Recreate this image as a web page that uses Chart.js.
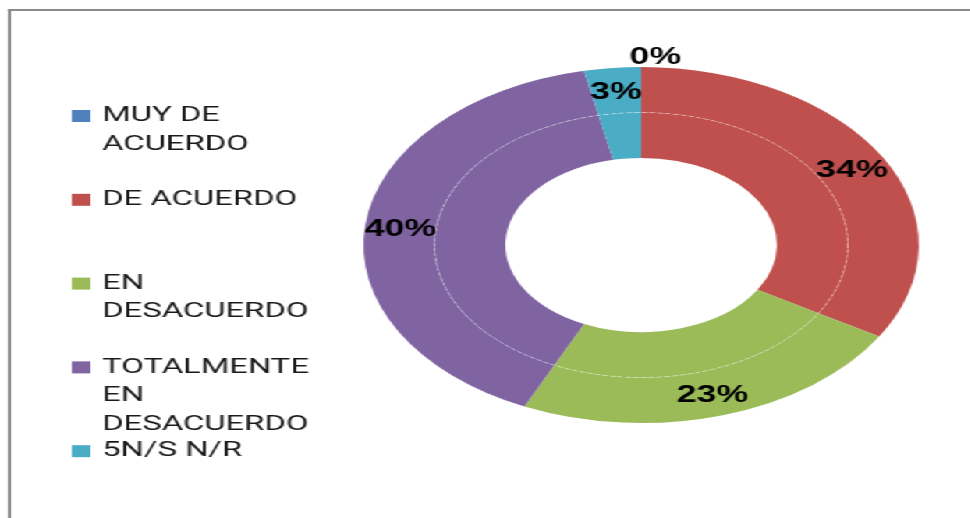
<!DOCTYPE html>
<html>
<head>
<meta charset="utf-8">
<script src="https://cdn.jsdelivr.net/npm/chart.js@4.4.0/dist/chart.umd.min.js"></script>
<style>
  html, body { margin: 0; padding: 0; background: #fff; overflow: hidden; }
  /* the original picture is stretched sideways, so the whole chart is drawn narrow and scaled */
  #stage { position: absolute; left: 0; top: 0; width: 622px; height: 518px; transform: scaleX(1.56); transform-origin: 0 0; }
  #frame { position: absolute; left: 5px; top: 9px; width: 800px; height: 800px; border-top: 2.5px solid #8a8a8a; border-left: 2.5px solid #8a8a8a; }
  #box { position: absolute; left: 0; top: 0; width: 622px; height: 518px; }
</style>
</head>
<body>
<div id="stage">
  <div id="frame"></div>
  <div id="box"><canvas id="chart"></canvas></div>
</div>
<script>
const categories = ['MUY DE ACUERDO', 'DE ACUERDO', 'EN DESACUERDO', 'TOTALMENTE EN DESACUERDO', '5N/S N/R'];
const outerValues = [0, 33.6, 23.3, 39.8, 3.3];
const innerValues = [0, 33.6, 23.3, 39.8, 3.3];
const colors = ['#4F81BD', '#C0504D', '#9BBB59', '#8064A2', '#4BACC6'];

// partir el texto de la leyenda en lineas
function wrapText(ctx, text, maxW) {
  const words = text.split(' ');
  const lines = [];
  let cur = '';
  words.forEach(w => {
    const test = cur ? cur + ' ' + w : w;
    if (cur && ctx.measureText(test).width > maxW) {
      lines.push(cur);
      cur = w;
    } else cur = test;
  });
  if (cur) lines.push(cur);
  return lines;
}

const ringLine = {
  id: 'ringLine',
  afterDatasetsDraw(chart) {
    const arc = chart.getDatasetMeta(1).data[0];
    if (!arc) return;
    const ctx = chart.ctx;
    ctx.save();
    ctx.strokeStyle = 'rgba(255,255,255,0.4)';
    ctx.lineWidth = 1;
    ctx.setLineDash([3, 2]);
    ctx.beginPath();
    ctx.arc(arc.x, arc.y, arc.outerRadius, 0, Math.PI * 2);
    ctx.stroke();
    ctx.restore();
  }
};

const pctLabels = {
  id: 'pctLabels',
  afterDatasetsDraw(chart) {
    const ctx = chart.ctx;
    const meta = chart.getDatasetMeta(0);
    const total = outerValues.reduce((a, b) => a + b, 0);
    ctx.save();
    ctx.font = 'bold 23px "Liberation Sans", Arial, sans-serif';
    ctx.fillStyle = '#000';
    ctx.textAlign = 'center';
    ctx.textBaseline = 'middle';
    meta.data.forEach((arc, i) => {
      const v = outerValues[i];
      const txt = Math.round(v / total * 100) + '%';
      let p;
      if (v === 0) {
        // etiqueta del valor cero fuera del anillo
        const r = arc.outerRadius + 11;
        p = { x: arc.x + Math.cos(arc.startAngle) * r + 9, y: arc.y + Math.sin(arc.startAngle) * r };
      } else {
        p = arc.getCenterPoint();
      }
      ctx.fillText(txt, p.x, p.y + 2);
    });
    ctx.restore();
  }
};

const sideLegend = {
  id: 'sideLegend',
  afterDraw(chart) {
    const ctx = chart.ctx;
    ctx.save();
    ctx.font = '21px Roboto, sans-serif';
    ctx.textBaseline = 'middle';
    ctx.textAlign = 'left';
    categories.forEach((name, i) => {
      const y0 = 116 + i * 83.8;
      ctx.fillStyle = colors[i];
      ctx.fillRect(46, y0 - 6, 12, 12);
      ctx.fillStyle = '#1a1a1a';
      wrapText(ctx, name, 140).forEach((line, j) => {
        ctx.fillText(line, 65.5, y0 + j * 28.6);
      });
    });
    ctx.restore();
  }
};

new Chart(document.getElementById('chart'), {
  type: 'doughnut',
  data: {
    labels: categories,
    datasets: [
      { label: 'exterior', data: outerValues, backgroundColor: colors, borderWidth: 0 },
      { label: 'interior', data: innerValues, backgroundColor: colors, borderWidth: 0 }
    ]
  },
  options: {
    responsive: true,
    maintainAspectRatio: false,
    animation: false,
    cutout: '48.9%',
    layout: { padding: { top: 67, bottom: 95, left: 233, right: 33 } },
    plugins: {
      legend: { display: false },
      tooltip: { enabled: false }
    }
  },
  plugins: [ringLine, pctLabels, sideLegend]
});
</script>
</body>
</html>
